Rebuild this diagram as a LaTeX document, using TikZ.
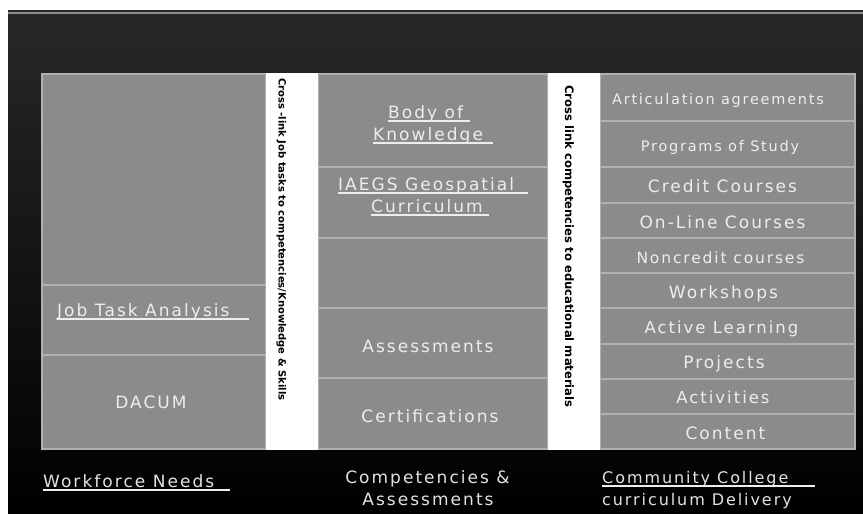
\documentclass[tikz,border=0pt]{standalone}
\usepackage{fontspec}
\setmainfont{DejaVu Sans}
\newfontfamily\lbl[LetterSpace=12]{DejaVu Sans}
\usetikzlibrary{fit}
\definecolor{cellgray}{HTML}{8B8B8B}
\definecolor{cellline}{HTML}{B0B0B0}
\definecolor{txtlight}{HTML}{EDEDED}
\definecolor{bottxt}{HTML}{E2E2E2}
\definecolor{bgtop}{HTML}{282828}
\definecolor{topline}{HTML}{8C8C8C}
\tikzset{
  cell/.style={fill=cellgray, draw=cellline, line width=1.6pt, inner sep=0pt},
  whitebar/.style={fill=white, draw=none, inner sep=0pt},
  fs/.style={font=\lbl\fontsize{#1}{#1}\selectfont},
  txt/.style={inner sep=0pt, text=txtlight},
  bot/.style={inner sep=0pt, text=bottxt},
  ul/.style={draw=txtlight, line width=1.3pt},
  bartxt/.style={inner sep=0pt, rotate=-90, anchor=base west, text=black,
                 font=\bfseries\fontsize{#1}{#1}\selectfont},
}
\begin{document}
\begin{tikzpicture}[x=1pt,y=-1pt]
\useasboundingbox (0,0) rectangle (863,514);
% background
\fill[white] (0,0) rectangle (863,514);
\shade[top color=bgtop, bottom color=black] (8,10) rectangle (863,514);
\draw[topline, line width=1.2pt] (8,13) -- (863,13);

% left column
\node[cell, fit={(42,74) (266,285)}] (wtop) {};
\node[cell, fit={(42,285) (266,355)}] (wjta) {};
\node[cell, fit={(42,355) (266,449)}] (wdac) {};
% middle column
\node[cell, fit={(318,74) (548,167)}] (mbok) {};
\node[cell, fit={(318,167) (548,238)}] (miae) {};
\node[cell, fit={(318,238) (548,308)}] (memp) {};
\node[cell, fit={(318,308) (548,378)}] (mass) {};
\node[cell, fit={(318,378) (548,449)}] (mcer) {};
% right column
\node[cell, fit={(600,74) (855,121)}] (r1) {};
\node[cell, fit={(600,121) (855,167)}] (r2) {};
\node[cell, fit={(600,167) (855,203)}] (r3) {};
\node[cell, fit={(600,203) (855,238)}] (r4) {};
\node[cell, fit={(600,238) (855,273)}] (r5) {};
\node[cell, fit={(600,273) (855,308)}] (r6) {};
\node[cell, fit={(600,308) (855,344)}] (r7) {};
\node[cell, fit={(600,344) (855,379)}] (r8) {};
\node[cell, fit={(600,379) (855,414)}] (r9) {};
\node[cell, fit={(600,414) (855,449)}] (r10) {};
% white bars
\node[whitebar, fit={(266,73.2) (318,449.8)}] (bar1) {};
\node[whitebar, fit={(548,73.2) (600,449.8)}] (bar2) {};
\node[bartxt=10] (x1) at (278.5,78) {Cross -link Job tasks to competencies/Knowledge \& Skills};
\node[bartxt=11.6] (x2) at (565,85) {Cross link competencies to educational materials};

% left texts
\node[txt, fs=17, anchor=base west] (jta) at (57,316) {Job Task Analysis};
\draw[ul] (jta.base west) ++(0,3) -- ++(192,0);
\node[txt, fs=17, anchor=base] (dacum) at (151,408) {DACUM};

% middle texts
\node[txt, fs=17, anchor=base west] (bok1) at (388,118) {Body of};
\draw[ul] (bok1.base west) ++(0,3) -- ++(82,0);
\node[txt, fs=17, anchor=base west] (bok2) at (373,140) {Knowledge};
\draw[ul] (bok2.base west) ++(0,3) -- ++(120,0);
\node[txt, fs=17, anchor=base west] (iae1) at (338,190) {IAEGS Geospatial};
\draw[ul] (iae1.base west) ++(0,3) -- ++(190,0);
\node[txt, fs=17, anchor=base west] (iae2) at (371,212) {Curriculum};
\draw[ul] (iae2.base west) ++(0,3) -- ++(118,0);
\node[txt, fs=17, anchor=base] (asst) at (428,352) {Assessments};
\node[txt, fs=17, anchor=base] (cert) at (430,422) {Certifications};

% right texts
\node[txt, fs=14.5, anchor=base] (t1) at (718,104) {Articulation agreements};
\node[txt, fs=14.5, anchor=base] (t2) at (720,151) {Programs of Study};
\node[txt, fs=17, anchor=base] (t3) at (722.5,192) {Credit Courses};
\node[txt, fs=17, anchor=base] (t4) at (722.5,228) {On-Line Courses};
\node[txt, fs=15.5, anchor=base] (t5) at (720.5,263) {Noncredit courses};
\node[txt, fs=17, anchor=base] (t6) at (723.5,298) {Workshops};
\node[txt, fs=16.5, anchor=base] (t7) at (721.5,333) {Active Learning};
\node[txt, fs=17, anchor=base] (t8) at (724,368) {Projects};
\node[txt, fs=16.5, anchor=base] (t9) at (723,403) {Activities};
\node[txt, fs=17, anchor=base] (t10) at (725.5,439) {Content};

% bottom labels
\node[bot, fs=17, anchor=base west] (wn) at (43,487) {Workforce Needs};
\draw[ul] (wn.base west) ++(0,3) -- ++(187,0);
\node[bot, fs=17, anchor=base] (ca1) at (427.5,483) {Competencies \&};
\node[bot, fs=17, anchor=base] (ca2) at (428,505) {Assessments};
\node[bot, fs=16, anchor=base west] (cc1) at (602,483) {Community College};
\draw[ul] (cc1.base west) ++(0,3) -- ++(213,0);
\node[bot, fs=16, anchor=base west] (cc2) at (602,505) {curriculum Delivery};
\end{tikzpicture}
\end{document}
